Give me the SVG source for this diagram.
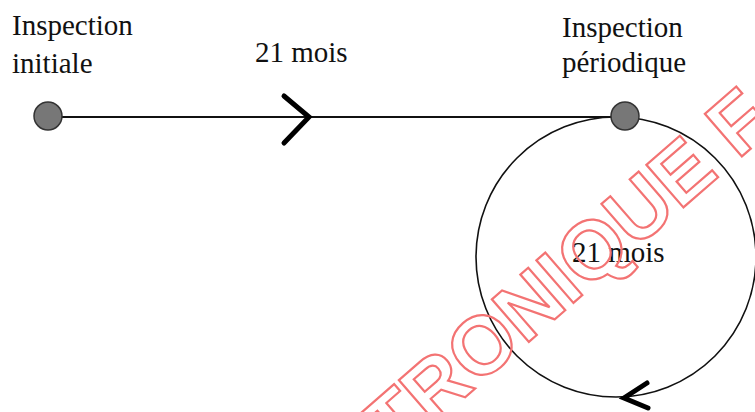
<svg xmlns="http://www.w3.org/2000/svg" width="755" height="412" viewBox="0 0 755 412">
  <style>
    .lbl { font-family: 'Liberation Serif', 'Times New Roman', serif; font-size: 29px; fill: #111; }
    .node { fill: #777; stroke: #333; stroke-width: 1.5; }
    .wire { fill: none; stroke: #111; stroke-width: 2; }
    .loop { fill: none; stroke: #111; stroke-width: 1.6; }
    .chev { fill: none; stroke: #000; stroke-width: 5; stroke-linecap: round; stroke-linejoin: miter; }
    .stamp { font-family: 'Liberation Sans', Arial, sans-serif; font-size: 82px; font-weight: bold; fill: none; stroke: #f37373; stroke-width: 2.2; }
  </style>
  <rect width="755" height="412" fill="#fff"/>

  <!-- connectors: straight run and the recurring loop -->
  <g id="connectors">
    <line class="wire" x1="48" y1="117" x2="625" y2="117"/>
    <path class="chev" d="M284,96 L309,117 L284,143"/>
    <circle class="loop" cx="616" cy="257" r="140"/>
    <path class="chev" d="M647,383 L624,398 L648,408"/>
  </g>

  <g id="node-initiale">
    <circle class="node" cx="48" cy="116" r="14"/>
    <text class="lbl" x="12" y="35">Inspection</text>
    <text class="lbl" x="12" y="73">initiale</text>
  </g>

  <g id="node-periodique">
    <circle class="node" cx="625" cy="116" r="14"/>
    <text class="lbl" x="562" y="37">Inspection</text>
    <text class="lbl" x="562" y="72">périodique</text>
  </g>

  <g id="labels">
    <text class="lbl" x="255" y="62">21 mois</text>
    <text class="lbl" x="572" y="262">21 mois</text>
  </g>

  <!-- diagonal outlined stamp -->
  <text class="stamp" transform="translate(394,459) rotate(-41)">TRONIQUE F</text>
</svg>
